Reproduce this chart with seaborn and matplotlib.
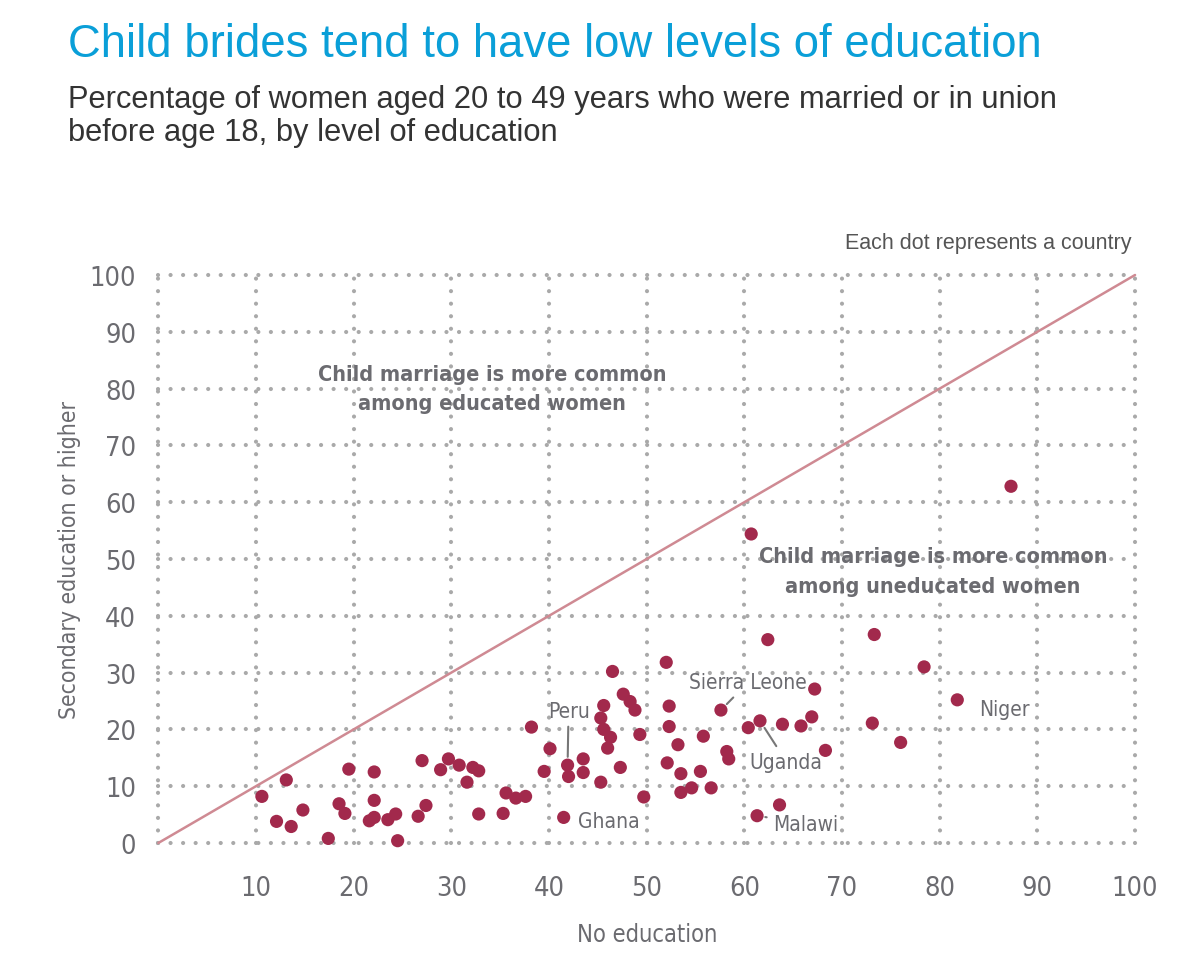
import seaborn as sns
import matplotlib.pyplot as plt
from matplotlib import font_manager
from matplotlib.font_manager import FontProperties

# share of women 20-49 married before 18, by education level (per country)
no_education = [
    10.6, 13.1, 12.1, 13.6, 14.8, 17.4, 19.5, 18.5, 19.1, 22.1,
    22.1, 21.6, 22.1, 23.5, 24.3, 24.5, 26.6, 27.4, 27.0, 28.9,
    29.7, 30.8, 31.6, 32.2, 32.8, 32.8, 35.3, 35.6, 36.6, 37.6,
    38.2, 39.5, 40.1, 41.5, 41.9, 42.0, 43.5, 43.5, 45.3, 46.5,
    45.6, 45.3, 45.6, 46.3, 46.0, 47.3, 47.6, 48.3, 48.8, 49.3,
    49.7, 52.0, 52.3, 52.3, 52.1, 53.2, 53.5, 53.5, 54.6, 55.5,
    55.8, 56.6, 57.6, 58.2, 58.4, 60.4, 61.6, 63.9, 65.8, 66.9,
    67.2, 68.3, 62.4, 60.7, 61.3, 63.6, 73.3, 73.1, 78.4, 76.0,
    81.8, 87.3,
]
secondary = [
    8.2, 11.1, 3.8, 2.9, 5.8, 0.8, 13.0, 6.9, 5.2, 12.5,
    7.5, 3.9, 4.5, 4.1, 5.1, 0.4, 4.7, 6.6, 14.5, 12.9,
    14.8, 13.7, 10.7, 13.3, 12.7, 5.1, 5.2, 8.8, 7.9, 8.2,
    20.4, 12.6, 16.6, 4.5, 13.7, 11.7, 14.8, 12.4, 10.7, 30.2,
    24.2, 22.0, 20.0, 18.6, 16.7, 13.3, 26.2, 24.9, 23.4, 19.1,
    8.1, 31.8, 24.1, 20.5, 14.1, 17.3, 12.2, 8.9, 9.7, 12.6,
    18.8, 9.7, 23.4, 16.1, 14.8, 20.3, 21.5, 20.9, 20.6, 22.2,
    27.1, 16.3, 35.8, 54.4, 4.8, 6.7, 36.7, 21.1, 31.0, 17.7,
    25.2, 62.8,
]
parity = [0, 100]
ticks = list(range(0, 101, 10))

# labelled countries: name, point index, text position, leader line, alignment
labels = [
    ("Peru", 34, (42.0, 23.3), True, "center"),
    ("Ghana", 33, (43.0, 3.9), False, "left"),
    ("Sierra Leone", 62, (60.4, 28.3), True, "center"),
    ("Uganda", 66, (64.3, 14.3), True, "center"),
    ("Malawi", 74, (62.9, 3.4), True, "left"),
    ("Niger", 80, (84.0, 23.6), False, "left"),
]


def find_narrow(bold=False):
    # look for any condensed / narrow face that is installed
    for f in font_manager.fontManager.ttflist:
        tag = (f.name + " " + str(f.stretch)).lower()
        if ("condensed" in tag or "narrow" in tag) and "extra" not in tag and "ultra" not in tag \
                and f.style == "normal":
            w = f.weight if isinstance(f.weight, int) else (700 if f.weight == "bold" else 400)
            if (bold and w == 700) or (not bold and w == 400):
                return FontProperties(fname=f.fname)
    return FontProperties(family="Liberation Sans", weight="bold" if bold else "normal")


narrow = find_narrow()
narrow_bold = find_narrow(bold=True)

sns.set_style("white")
plt.rcParams["font.family"] = ["Liberation Sans", "DejaVu Sans"]

dot_color = "#A2294C"
grey_txt = "#6B6B70"
grid_col = "#A9A9A9"

fig = plt.figure(figsize=(11.8, 9.62), dpi=100)
ax = fig.add_axes([0.1342, 0.1227, 0.8277, 0.5904])

for t in ticks:
    ax.axvline(t, color=grid_col, lw=3.0, ls=(0, (0.01, 3.0)),
               dash_capstyle="round", clip_on=False, zorder=0)
    ax.axhline(t, color=grid_col, lw=3.0, ls=(0, (0.01, 3.0)),
               dash_capstyle="round", clip_on=False, zorder=0)

ax.plot(parity, parity, color="#CF8A93", lw=1.8, zorder=1, clip_on=False)

sns.scatterplot(x=no_education, y=secondary, ax=ax, color=dot_color,
                s=90, edgecolor="none", zorder=3, clip_on=False)

ax.set_xlim(0, 100)
ax.set_ylim(0, 100)
ax.set_xticks(ticks[1:])
ax.set_yticks(ticks)
ax.tick_params(length=0, labelcolor=grey_txt)
ax.tick_params(axis="x", pad=23)
ax.tick_params(axis="y", pad=16)
for lab in ax.get_xticklabels() + ax.get_yticklabels():
    lab.set_fontproperties(narrow)
    lab.set_fontsize(19.5)
sns.despine(ax=ax, left=True, bottom=True)

ax.set_xlabel("No education", fontproperties=narrow, fontsize=17, color=grey_txt, labelpad=15)
ax.set_ylabel("Secondary education or higher", fontproperties=narrow, fontsize=16.5,
              color=grey_txt, labelpad=6)

for name, i, pos, line, ha in labels:
    arrow = dict(arrowstyle="-", color="#777777", lw=1.5, shrinkA=2, shrinkB=6) if line else None
    ax.annotate(name, xy=(no_education[i], secondary[i]), xytext=pos,
                ha=ha, va="center", fontproperties=narrow, fontsize=15,
                color=grey_txt, arrowprops=arrow, zorder=4)

ax.text(34.2, 80.0, "Child marriage is more common\namong educated women",
        ha="center", va="center", fontproperties=narrow_bold, fontsize=15.5,
        color=grey_txt, linespacing=1.6)
ax.text(79.3, 47.9, "Child marriage is more common\namong uneducated women",
        ha="center", va="center", fontproperties=narrow_bold, fontsize=15.5,
        color=grey_txt, linespacing=1.6, zorder=4)

fig.text(0.0576, 0.953, "Child brides tend to have low levels of education",
         fontsize=32.8, color="#0A9FD8", va="center", ha="left")
fig.text(0.0576, 0.879,
         "Percentage of women aged 20 to 49 years who were married or in union\n"
         "before age 18, by level of education",
         fontsize=22.2, color="#333333", va="center", ha="left", linespacing=1.15)
fig.text(0.9585, 0.7474, "Each dot represents a country", fontsize=15.5,
         color="#555555", ha="right", va="center")

plt.savefig("out.png", dpi=100)
plt.close()
